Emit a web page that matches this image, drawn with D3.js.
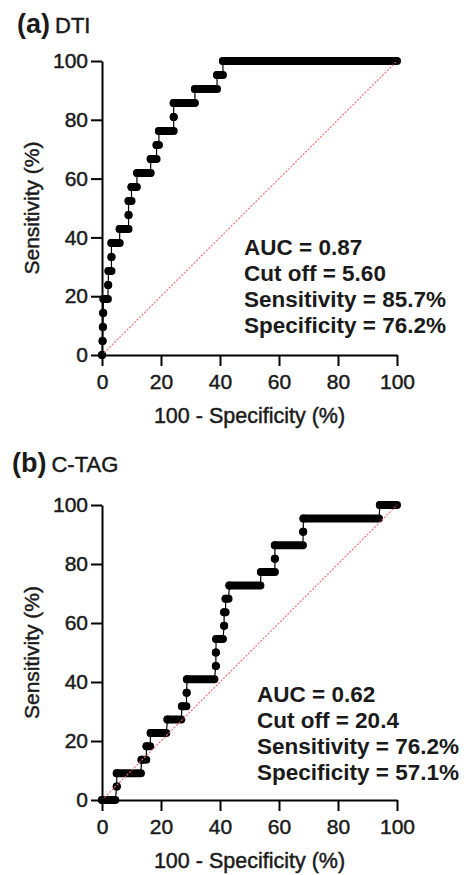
<!DOCTYPE html>
<html>
<head>
<meta charset="utf-8">
<script src="https://cdn.jsdelivr.net/npm/d3@7"></script>
<style>
  body { margin: 0; background: #fff; }
  text { font-family: "Liberation Sans", Arial, sans-serif; fill: #1a1a1a; }
  .med { stroke: #1a1a1a; stroke-width: 0.45px; }
</style>
</head>
<body>
<script>
// ROC runs: sensitivity level with start/end of the 100-specificity range (%)
const dtiSens  = [0, 4.76, 9.52, 14.29, 19.05, 23.81, 28.57, 33.33, 38.10, 42.86, 47.62, 52.38, 57.14, 61.90, 66.67, 71.43, 76.19, 80.95, 85.71, 90.48, 95.24, 100];
const dtiStart = [0, 0.2, 0.3, 0.4, 0.5, 2.1, 2.2, 3.2, 3.2, 6.0, 9.0, 9.0, 10.0, 11.9, 16.5, 18.5, 19.3, 24.3, 24.3, 31.5, 39.0, 41.0];
const dtiEnd   = [0, 0.2, 0.3, 0.4, 2.0, 2.1, 3.2, 3.2, 6.0, 9.0, 9.0, 10.0, 11.8, 16.5, 18.5, 19.3, 24.3, 24.3, 31.5, 39.0, 41.0, 100];

const ctagSens  = [0, 4.55, 9.09, 13.64, 18.18, 22.73, 27.27, 31.82, 36.36, 40.91, 45.45, 50.00, 54.55, 59.09, 63.64, 68.18, 72.73, 77.27, 81.82, 86.36, 90.91, 95.45, 100];
const ctagStart = [0, 5.0, 5.0, 13.4, 15.1, 16.5, 22.2, 27.1, 28.7, 28.8, 38.6, 38.6, 38.7, 41.4, 41.4, 41.9, 43.2, 53.9, 58.6, 58.6, 68.2, 68.3, 94.2];
const ctagEnd   = [4.5, 5.0, 13.2, 15.0, 16.3, 21.8, 26.9, 28.6, 28.7, 38.1, 38.6, 38.6, 41.0, 41.4, 41.9, 42.9, 53.7, 58.6, 58.6, 68.1, 68.2, 93.9, 100];

const tickValues = [0, 20, 40, 60, 80, 100];

const panels = [
  { tag: "(a)", name: "DTI", sens: dtiSens, start: dtiStart, end: dtiEnd, top: 61, bottom: 355, titleX: 17, titleY: 33,
    notes: ["AUC = 0.87", "Cut off = 5.60", "Sensitivity = 85.7%", "Specificity = 76.2%"], noteX: 244, noteY: 255 },
  { tag: "(b)", name: "C-TAG", sens: ctagSens, start: ctagStart, end: ctagEnd, top: 505, bottom: 800, titleX: 12, titleY: 472,
    notes: ["AUC = 0.62", "Cut off = 20.4", "Sensitivity = 76.2%", "Specificity = 57.1%"], noteX: 257, noteY: 702 }
];

const width = 468, height = 875;
const left = 102, right = 397;

const svg = d3.select("body").append("svg").attr("width", width).attr("height", height);

panels.forEach(function(p) {
  const x = d3.scaleLinear().domain([0, 100]).range([left, right]);
  const y = d3.scaleLinear().domain([0, 100]).range([p.bottom, p.top]);
  const g = svg.append("g");

  const runs = p.sens.map(function(s, i) { return { s: s, x0: p.start[i], x1: p.end[i] }; });

  // title
  const t = g.append("text").attr("x", p.titleX).attr("y", p.titleY);
  t.append("tspan").attr("font-size", 27).attr("font-weight", "bold").text(p.tag);
  t.append("tspan").attr("class", "med").attr("font-size", 22).attr("dx", 5).text(p.name);

  // thin step line
  const pts = [];
  runs.forEach(function(r) { pts.push([r.x0, r.s]); pts.push([r.x1, r.s]); });
  g.append("path")
    .attr("d", d3.line().x(function(d) { return x(d[0]); }).y(function(d) { return y(d[1]); })(pts))
    .attr("fill", "none").attr("stroke", "#000").attr("stroke-width", 1.2);

  // dense point runs
  g.selectAll(".run").data(runs).enter().append("line")
    .attr("class", "run")
    .attr("x1", function(d) { return x(d.x0); })
    .attr("x2", function(d) { return x(d.x1); })
    .attr("y1", function(d) { return y(d.s); })
    .attr("y2", function(d) { return y(d.s); })
    .attr("stroke", "#000").attr("stroke-width", 8).attr("stroke-linecap", "round");
  g.selectAll(".dot").data(runs).enter().append("circle")
    .attr("class", "dot")
    .attr("cx", function(d) { return x(d.x0); })
    .attr("cy", function(d) { return y(d.s); })
    .attr("r", 4).attr("fill", "#000");

  // reference diagonal
  g.append("line")
    .attr("x1", x(0)).attr("y1", y(0)).attr("x2", x(100)).attr("y2", y(100))
    .attr("stroke", "#ee6a6a").attr("stroke-width", 1.1).attr("stroke-dasharray", "2,1.5");

  // axes
  const xAxis = g.append("g")
    .attr("transform", "translate(0," + p.bottom + ")")
    .call(d3.axisBottom(x).tickValues(tickValues).tickSize(11).tickSizeOuter(0).tickPadding(8));
  const yAxis = g.append("g")
    .attr("transform", "translate(" + left + ",0)")
    .call(d3.axisLeft(y).tickValues(tickValues).tickSize(11).tickSizeOuter(0).tickPadding(3));
  [xAxis, yAxis].forEach(function(a) {
    a.selectAll("path, line").attr("stroke", "#000").attr("stroke-width", 2);
    a.selectAll("text").attr("class", "med").attr("font-size", 21)
      .attr("font-family", "Liberation Sans, Arial, sans-serif").attr("fill", "#1a1a1a");
  });

  g.append("text")
    .attr("class", "med")
    .attr("x", (left + right) / 2).attr("y", p.bottom + 68)
    .attr("text-anchor", "middle").attr("font-size", 21.5)
    .text("100 - Specificity (%)");
  g.append("text")
    .attr("class", "med")
    .attr("transform", "translate(39," + (p.top + p.bottom) / 2 + ") rotate(-90)")
    .attr("text-anchor", "middle").attr("font-size", 21)
    .text("Sensitivity (%)");

  g.selectAll(".note").data(p.notes).enter().append("text")
    .attr("class", "note")
    .attr("x", p.noteX)
    .attr("y", function(d, i) { return p.noteY + i * 26; })
    .attr("font-size", 22.5).attr("font-weight", "bold")
    .text(function(d) { return d; });
});
</script>
</body>
</html>
